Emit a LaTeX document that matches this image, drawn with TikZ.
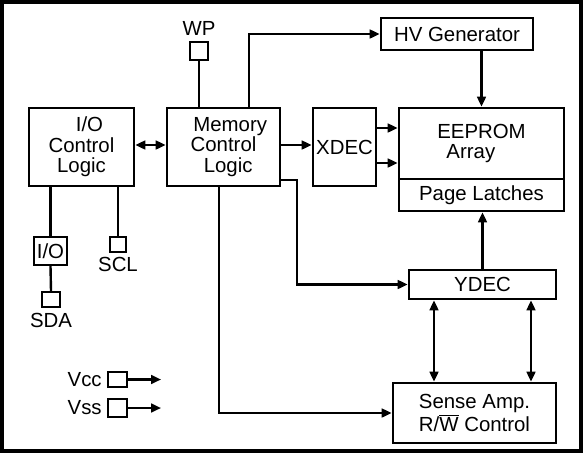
\documentclass[tikz,border=0pt]{standalone}
\usepackage{fontspec}
\setmainfont{Liberation Sans}
\usepackage{amsmath}
\usetikzlibrary{arrows.meta}

\tikzset{
    blk/.style={draw, line width=1.9pt, inner sep=0pt, align=center},
    pin/.style={draw, line width=1.6pt, inner sep=0pt},
    sz/.style n args={2}{minimum width={#1*0.75pt}, minimum height={#2*0.75pt}},
    wire/.style={line width=1.8pt},
    tip/.style={-{Triangle[length=7.5pt,width=6.5pt]}},
    dtip/.style={{Triangle[length=7.5pt,width=6.5pt]}-{Triangle[length=7.5pt,width=6.5pt]}}
}

\begin{document}
\begin{tikzpicture}[x=0.75pt,y=0.75pt,yscale=-1,xscale=1,font=\fontsize{15.3}{15.3}\selectfont]
    \useasboundingbox (0,0) rectangle (584,454);
    
    %Shape: Rectangle [frame]
    \draw [line width=2.6pt] (2,2) rectangle (581,451) ;
    
    %Shape: Rectangle [blocks]
    \node [blk, sz={105}{78}] (iocl) at (81.5,147) {\hspace*{12pt}I/O\\Control\\Logic};
    \node [blk, sz={113}{78}] (mcl) at (223.5,147) {\hspace*{10pt}Memory\\Control\\\hspace*{7pt}Logic};
    \node [blk, sz={63}{78}] (xdec) at (344.5,147) {XDEC};
    \node [blk, sz={152}{32}] (hv) at (457,34) {HV Generator};
    \node [blk, sz={165}{71}] (arr) at (481.5,143.5) {EEPROM\\Array\hspace*{16pt}};
    \node [blk, sz={165}{32}] (latch) at (481.5,195) {Page Latches};
    \node [blk, sz={147}{29}] (ydec) at (482.5,284.5) {YDEC};
    \node [blk, sz={163}{60}] (sense) at (474.5,413) {Sense Amp.\\R/$\overline{\mbox{W}}$ Control};
    \node [blk, line width=1.6pt, sz={33}{28}] (io) at (50.5,251) {I/O};
    
    %Shape: Square [pins]
    \node [pin, sz={18}{18}] (wp) at (199,51) {};
    \node [pin, sz={16}{15}] (scl) at (118,244.5) {};
    \node [pin, sz={18}{15}] (sda) at (51,299.5) {};
    \node [pin, sz={19}{15}] (vcc) at (117.5,379.5) {};
    \node [pin, sz={19}{18}] (vss) at (117.5,408) {};
    
    % Text Node
    \node [anchor=south, inner sep=0.75pt] (wpl) at (wp.north) [yshift=3] {WP};
    % Text Node
    \node [anchor=north, inner sep=0.75pt] (scll) at (scl.south) [yshift=-2.5] {SCL};
    % Text Node
    \node [anchor=north, inner sep=0.75pt] (sdal) at (sda.south) [yshift=-3] {SDA};
    % Text Node
    \node [anchor=east, inner sep=0.75pt] (vccl) at (vcc.west) [xshift=-3] {Vcc};
    % Text Node
    \node [anchor=east, inner sep=0.75pt] (vssl) at (vss.west) [xshift=-3] {Vss};
    
    %Straight Lines
    \draw [wire, dtip] (iocl.east |- 0,145) -- (mcl.west |- 0,145) ;
    \draw [wire] (wp.south) -- (wp.south |- mcl.north) ;
    \draw [wire, tip] (mcl.north -| 249,0) |- (hv.west) ;
    \draw [wire, tip] (mcl.east |- 0,145) -- (xdec.west |- 0,145) ;
    \foreach \y in {128,163}
        \draw [wire, tip] (xdec.east |- 0,\y) -- (arr.west |- 0,\y) ;
    \draw [wire, tip] (arr.north |- hv.south) -- (arr.north) ;
    \draw [wire, tip] (mcl.east |- 0,180) -- (297,180) |- (ydec.west) ;
    \draw [wire, tip] (ydec.north) -- (ydec.north |- latch.south) ;
    \foreach \x in {434,531}
        \draw [wire, dtip] (ydec.south -| \x,0) -- (sense.north -| \x,0) ;
    \draw [wire, tip] (mcl.south -| 219,0) |- (sense.west) ;
    \draw [wire] (iocl.south -| io.north) -- (io.north) ;
    \draw [wire] (io.south) -- (sda.north) ;
    \draw [wire] (iocl.south -| scl.north) -- (scl.north) ;
    \draw [wire, tip] (vcc.east) -- ++(33,0) coordinate (vcce) ;
    \draw [wire, tip] (vss.east) -- ++(33,0) coordinate (vsse) ;
    
\end{tikzpicture}
\end{document}
